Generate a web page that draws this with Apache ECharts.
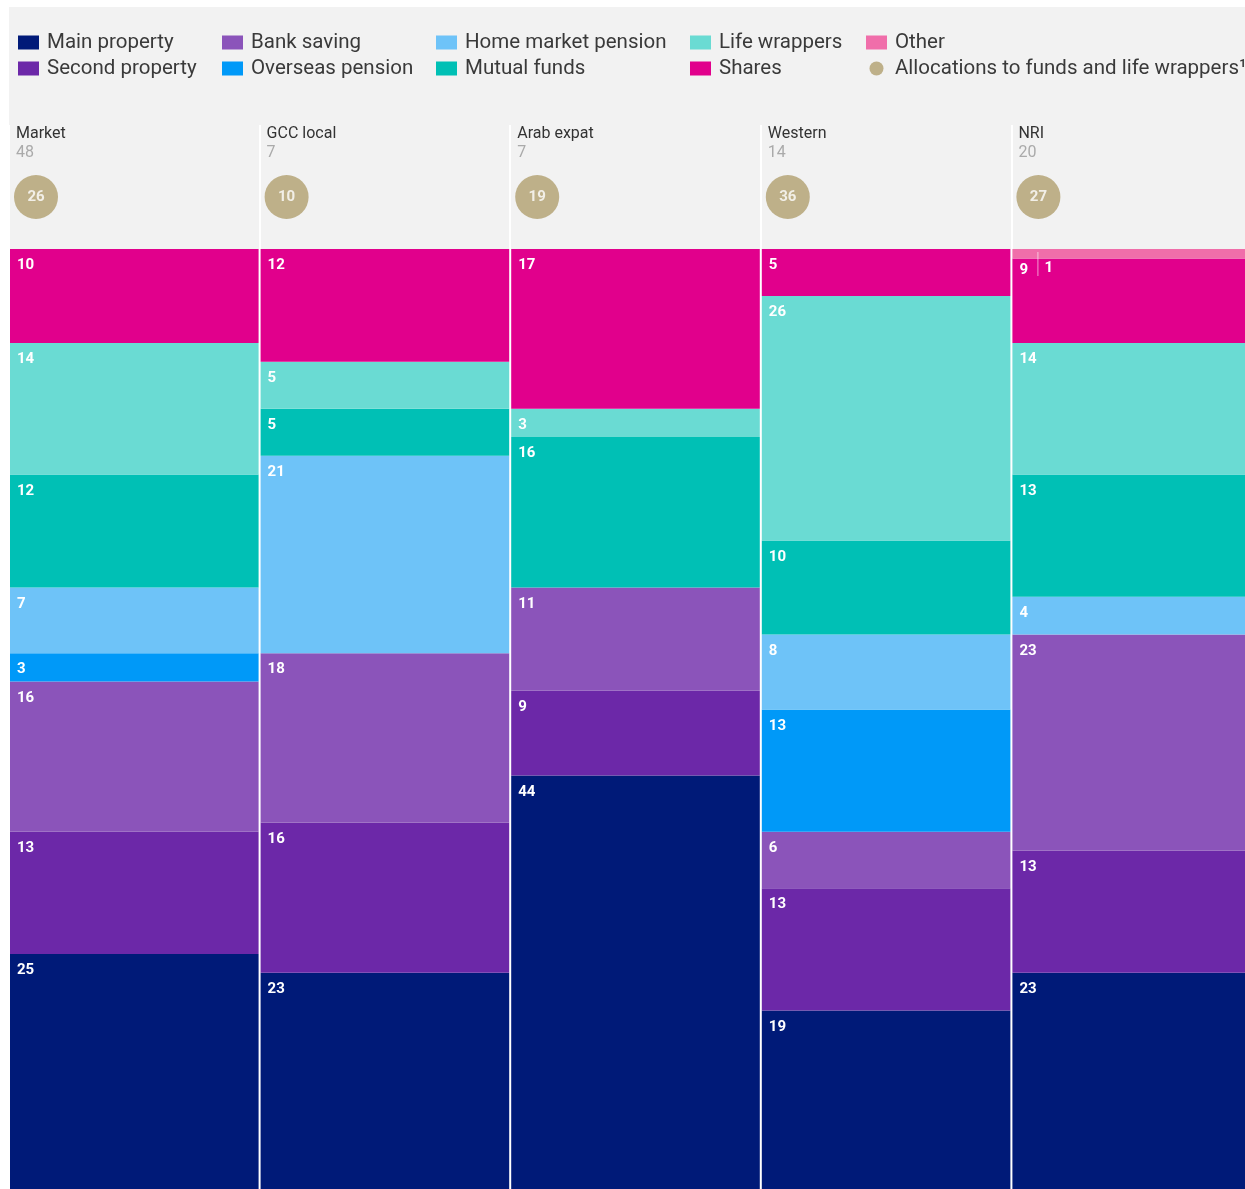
<!DOCTYPE html>
<html><head><meta charset="utf-8">
<script src="https://cdn.jsdelivr.net/npm/echarts@6/dist/echarts.min.js"></script>
<style>
html,body{margin:0;padding:0;background:#fff;overflow:hidden;width:1245px;height:1189px}
#c{width:1262px;height:1189px;background:linear-gradient(#f2f2f2,#f2f2f2) 9px 7px / 100% 100% no-repeat}
</style>
</head><body><div id="c"></div>
<script>
// ---- data ----
const categories = ['Market', 'GCC local', 'Arab expat', 'Western', 'NRI'];
const counts = [48, 7, 7, 14, 20];
const allocations = [26, 10, 19, 36, 27];
const mainProperty = [25, 23, 44, 19, 23];
const secondProperty = [13, 16, 9, 13, 13];
const bankSaving = [16, 18, 11, 6, 23];
const overseasPension = [3, 0, 0, 13, 0];
const homeMarketPension = [7, 21, 0, 8, 4];
const mutualFunds = [12, 5, 16, 10, 13];
const lifeWrappers = [14, 5, 3, 26, 14];
const shares = [10, 12, 17, 5, 9];
const other = [0, 0, 0, 0, 1];

// ---- styling / layout ----
const FONT = 'Roboto';
const GRID_LEFT = 9, GRID_WIDTH = 1253;
const COL_W = GRID_WIDTH / categories.length;
const seriesDefs = [
  ['Main property', mainProperty, '#001a78'],
  ['Second property', secondProperty, '#6c28a8'],
  ['Bank saving', bankSaving, '#8b54ba'],
  ['Overseas pension', overseasPension, '#0099f8'],
  ['Home market pension', homeMarketPension, '#6ec3f8'],
  ['Mutual funds', mutualFunds, '#00c0b5'],
  ['Life wrappers', lifeWrappers, '#6adbd3'],
  ['Shares', shares, '#e1008c'],
  ['Other', other, '#f06eaa']
];
const ALLOC_NAME = 'Allocations to funds and life wrappers\u00b9';
const legendCols = [
  ['Main property', 'Second property'],
  ['Bank saving', 'Overseas pension'],
  ['Home market pension', 'Mutual funds'],
  ['Life wrappers', 'Shares'],
  ['Other', ALLOC_NAME]
];
const legendLeft = [18, 222, 436, 690, 866];

const labelBase = {
  show: true, position: 'insideTopLeft', distance: 7, offset: [0, 2],
  color: '#fff', fontWeight: 'bold', fontSize: 15, fontFamily: FONT
};

const barSeries = seriesDefs.map(([name, arr, color]) => ({
  name, type: 'bar', stack: 'all', xAxisIndex: 0, yAxisIndex: 0,
  barCategoryGap: '0.8%',
  itemStyle: { color },
  emphasis: { disabled: true },
  label: Object.assign({}, labelBase, { formatter: p => p.value }),
  data: arr.map((v, i) => {
    if (!v) return null;
    const item = { value: v };
    if (name === 'Shares' && other[i] > 0) item.label = { offset: [0, -3] };
    if (name === 'Other') item.label = {
      offset: [18, -4],
      formatter: p => '{s|}{v|' + p.value + '}',
      rich: {
        s: { width: 1, height: 24, backgroundColor: 'rgba(255,255,255,0.6)' },
        v: { color: '#fff', fontWeight: 'bold', fontSize: 15, fontFamily: FONT, padding: [0, 0, 0, 6], verticalAlign: 'bottom', lineHeight: 18 }
      }
    };
    return item;
  })
}));

const chart = echarts.init(document.getElementById('c'), null, { renderer: 'canvas' });
chart.setOption({
  animation: false,
  backgroundColor: 'transparent',
  legend: legendCols.map((names, k) => ({
    orient: 'vertical', left: legendLeft[k], top: 32, padding: 0,
    itemWidth: 21, itemHeight: 14, itemGap: 5, selectedMode: false,
    icon: 'rect',
    data: names.map(n => n === ALLOC_NAME ? { name: n, icon: 'circle' } : { name: n }),
    textStyle: { fontSize: 20.5, color: '#3a3a3a', fontFamily: FONT, lineHeight: 20, padding: [0, 0, 0, 3] }
  })),
  grid: [
    { left: GRID_LEFT, top: 249, width: GRID_WIDTH, bottom: 0, show: true, backgroundColor: '#fff', borderWidth: 0 },
    { left: GRID_LEFT, top: 125, width: GRID_WIDTH, height: 124 },
    { left: GRID_LEFT, top: 175, width: GRID_WIDTH, height: 44 }
  ],
  xAxis: [
    { type: 'category', gridIndex: 0, data: categories, show: false },
    {
      type: 'category', gridIndex: 1, data: categories, position: 'top',
      axisLine: { show: false }, axisTick: { show: false },
      splitLine: { show: true, lineStyle: { color: '#fff', width: 2 } },
      axisLabel: {
        inside: true, margin: -1, width: COL_W - 14,
        formatter: (v, i) => '{n|' + v + '}\n{c|' + counts[i] + '}',
        rich: {
          n: { align: 'left', fontSize: 16, color: '#333', fontFamily: FONT, lineHeight: 19 },
          c: { align: 'left', fontSize: 16, color: '#aaa', fontFamily: FONT, lineHeight: 19 }
        }
      }
    },
    { type: 'category', gridIndex: 2, data: categories, show: false }
  ],
  yAxis: [
    { type: 'value', gridIndex: 0, min: 0, max: 100, show: false },
    { type: 'value', gridIndex: 1, show: false },
    { type: 'value', gridIndex: 2, min: 0, max: 1, show: false }
  ],
  series: barSeries.concat([{
    name: ALLOC_NAME, type: 'scatter', xAxisIndex: 2, yAxisIndex: 2,
    symbol: 'circle', symbolSize: 44, symbolOffset: [27 - COL_W / 2, 0],
    itemStyle: { color: '#b09f6e' },
    emphasis: { disabled: true },
    label: {
      show: true, position: 'inside', color: '#fff', fontWeight: 'bold', fontSize: 15, fontFamily: FONT,
      formatter: p => allocations[p.dataIndex]
    },
    data: allocations.map((v, i) => [i, 0.5])
  }])
});
</script>
</body></html>
